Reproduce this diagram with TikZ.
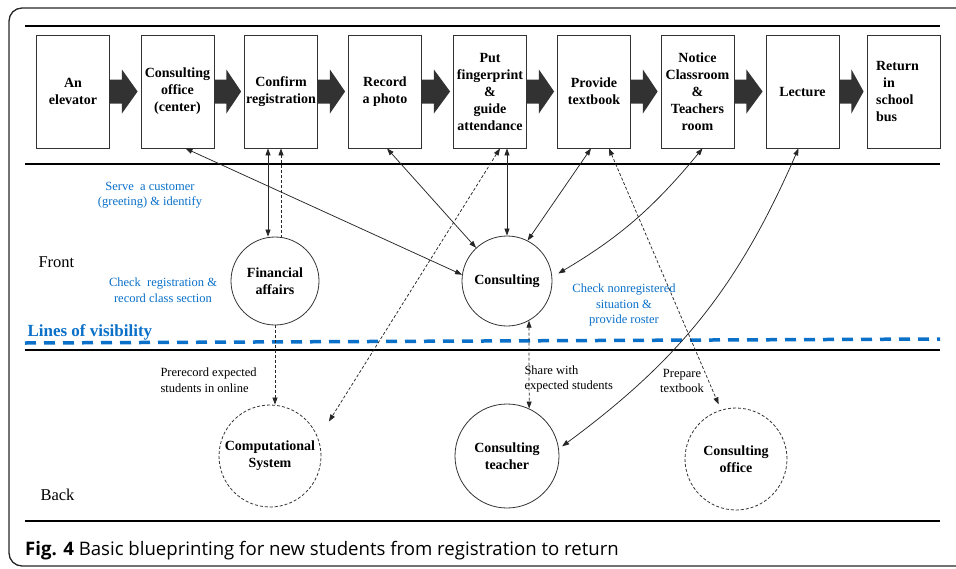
\documentclass[tikz,border=0pt]{standalone}
\usepackage{fontspec}
\setmainfont{Liberation Serif}
\newfontfamily\capfont{Open Sans}
\usetikzlibrary{arrows.meta,calc}
\definecolor{vblue}{RGB}{10,112,200}
\definecolor{afill}{RGB}{50,50,50}
\begin{document}
\begin{tikzpicture}[x=1pt,y=-1pt,
  >={Triangle[length=7pt,width=5pt]},
  box/.style={draw=black!80, line width=0.8pt, minimum width=73pt, minimum height=113pt, inner sep=0pt, align=center, font=\fontsize{14}{17}\selectfont\bfseries},
  circ/.style={circle, draw=black!80, line width=0.8pt, inner sep=0pt, align=center, font=\fontsize{14}{17}\selectfont\bfseries},
  dcirc/.style={circ, dash pattern=on 3pt off 2pt},
  rulestyle/.style={line width=2.8pt, black},
  conn/.style={draw=black!85, line width=0.75pt, <->},
  dconn/.style={conn, dash pattern=on 3pt off 2pt},
  bluelbl/.style={text=vblue, align=center, font=\fontsize{12.5}{15.5}\selectfont},
  blklbl/.style={align=left, font=\fontsize{12.5}{15.5}\selectfont},
  sidelbl/.style={anchor=base west, font=\fontsize{16.5}{19}\selectfont},
  barrow/.style={fill=afill, draw=none}
]
\useasboundingbox (0,0) rectangle (956,568);
% frame
\draw[line width=1.3pt, black!85, rounded corners=13pt] (9,8) rectangle (1000,566);
% horizontal rules
\draw[rulestyle] (25,26) -- (940,26);
\draw[rulestyle] (25,164) -- (940,164);
\draw[rulestyle] (25,350) -- (940,350);
\draw[rulestyle] (25,521) -- (940,521);
% line of visibility
\draw[vblue, line width=3.5pt, dash pattern=on 11pt off 8pt] (25,343) -- (940,339);
\node[anchor=base west, text=vblue, font=\fontsize{17}{20}\selectfont\bfseries] (lov) at (24,336) {Lines of visibility};
% process boxes
\node[box] (b1) at (73,91.5) {An\\elevator};
\node[box] (b2) at (177.5,91.5) {Consulting\\office\\(center)};
\node[box] (b3) at (281,91.5) {Confirm\\registration};
\node[box] (b4) at (385,91.5) {Record\\a photo};
\node[box] (b5) at (490,91.5) {Put\\fingerprint\\\&\\guide\\attendance};
\node[box] (b6) at (594,91.5) {Provide\\textbook};
\node[box] (b7) at (697.5,91.5) {Notice\\Classroom\\\&\\Teachers\\room};
\node[box] (b8) at (802.5,91.5) {Lecture};
\node[box, align=left] (b9) at (903.5,91.5) {Return\hspace*{12pt}\\\hspace*{7pt}in\\school\\bus};
% block arrows
\foreach \a/\b in {b1/b2,b2/b3,b3/b4,b4/b5,b5/b6,b6/b7,b7/b8,b8/b9}{
  \fill[barrow] ($(\a.east)+(0,-12)$) -- ($(\a.east)+(12,-12)$) -- ($(\a.east)+(12,-22)$)
    -- ($(\b.west)+(-3,0)$) -- ($(\a.east)+(12,22)$) -- ($(\a.east)+(12,12)$) -- ($(\a.east)+(0,12)$) -- cycle;
}
% circles
\node[circ, minimum size=88pt] (fin) at (275,281) {Financial\\affairs};
\node[circ, minimum size=90pt] (cons) at (507,281) {Consulting};
\node[dcirc, minimum size=102pt] (comp) at (270,456) {Computational\\System};
\node[circ, minimum size=104pt] (teach) at (507,456) {Consulting\\teacher};
\node[dcirc, minimum size=102pt] (cof) at (736,459) {Consulting\\office};
% side labels
\node[sidelbl] (front) at (35,267) {Front};
\node[sidelbl] (back) at (37,500) {Back};
% blue labels
\node[bluelbl] (l1) at (150,195) {Serve\ \ a customer\\(greeting) \& identify};
\node[bluelbl] (l2) at (163,290) {Check\ \ registration \&\\record class section};
\node[bluelbl] (l3) at (624,305) {Check nonregistered\\situation \&\\provide roster};
% connectors
\draw[conn] ([xshift=8pt]b2.south) -- (cons.172);
\draw[conn] ([xshift=-13pt]b3.south) -- ([xshift=-13pt]b3.south |- fin.north);
\draw[dconn, <-] (b3.south) -- (b3.south |- fin.north);
\draw[dconn, ->] (fin.south) -- (fin.south |- comp.north);
\draw[conn] ([xshift=2pt]b4.south) -- (cons.133);
\draw[conn] (cons.north |- b5.south) -- (cons.north);
\draw[dconn, shorten >=20pt] ([xshift=10pt]b5.south) -- (comp.20);
\draw[conn] ([xshift=-3pt]b6.south) -- (cons.63);
\draw[dconn, shorten >=6pt] ([xshift=15pt]b6.south) -- (cof.107);
\draw[conn, shorten >=7pt] ([xshift=5pt]b7.south) to[bend left=10] (cons.5);
\draw[conn, shorten >=4pt] ([xshift=-4pt]b8.south) to[bend left=15] (teach.8);
\draw[dconn] (cons.-61) -- (teach.65);
% black labels
\node[blklbl, anchor=west] (p1) at (157,380) {Prerecord expected\\students in online};
\node[blklbl, anchor=west] (p2) at (521,379) {Share with\\expected students};
\node[blklbl, align=center] (p3) at (682,381) {Prepare\\textbook};
% caption
\node[anchor=base west, font=\capfont\fontsize{18.6}{22}\selectfont, inner sep=0pt] (cap) at (25,555) {\textbf{Fig. 4} Basic blueprinting for new students from registration to return};
\end{tikzpicture}
\end{document}
